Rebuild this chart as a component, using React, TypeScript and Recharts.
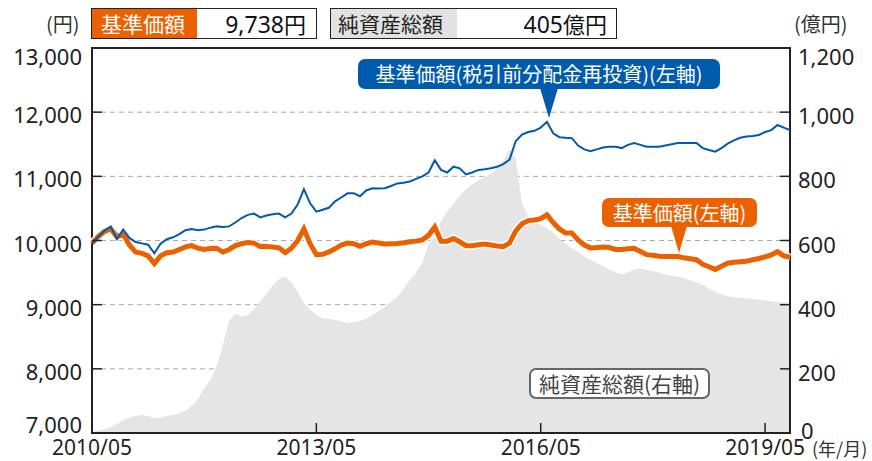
import React from "react";
import { ComposedChart, Area, Line, XAxis, YAxis, CartesianGrid, ReferenceArea } from "recharts";

// monthly, 2010/05 .. 2019/09
const NAV_REINVEST = [
  9950, 10060, 10150, 10220, 10020, 10170, 10040, 9975, 9955, 9935,
  9800, 9950, 10020, 10050, 10100, 10160, 10180, 10160, 10170, 10200,
  10220, 10210, 10220, 10280, 10350, 10400, 10420, 10360, 10390, 10410,
  10420, 10360, 10420, 10560, 10800, 10580, 10450, 10480, 10510, 10610,
  10670, 10735, 10735, 10690, 10780, 10815, 10810, 10815, 10850, 10890,
  10900, 10920, 10960, 11000, 11060, 11250, 11100, 11060, 11150, 11125,
  11030, 11060, 11100, 11110, 11125, 11150, 11190, 11260, 11550, 11650,
  11690, 11710, 11760, 11850, 11670, 11610, 11600, 11595, 11480, 11420,
  11390, 11420, 11450, 11460, 11460, 11440, 11490, 11520, 11490, 11460,
  11460, 11460, 11480, 11500, 11520, 11520, 11520, 11520, 11440, 11410,
  11385, 11440, 11510, 11560, 11600, 11620, 11630, 11645, 11690, 11720,
  11800, 11760, 11720,
];

const NAV = [
  9955, 10060, 10140, 10180, 10060, 10100, 9930, 9820, 9800, 9760,
  9640, 9760, 9810, 9820, 9860, 9900, 9920, 9880, 9860, 9875,
  9880, 9820, 9860, 9920, 9950, 9970, 9960, 9905, 9905, 9900,
  9885, 9810, 9880, 10000, 10180, 9950, 9780, 9785, 9820, 9870,
  9930, 9960, 9950, 9910, 9950, 9975, 9960, 9945, 9950, 9955,
  9965, 9980, 9990, 10010, 10080, 10210, 9990, 9990, 10030, 9980,
  9920, 9920, 9935, 9945, 9930, 9915, 9905, 9960, 10150, 10260,
  10310, 10320, 10340, 10400, 10280, 10180, 10115, 10115, 10010, 9930,
  9885, 9890, 9900, 9890, 9860, 9860, 9870, 9880, 9830, 9780,
  9770, 9755, 9750, 9750, 9750, 9730, 9715, 9700, 9630, 9590,
  9550, 9600, 9645, 9660, 9670, 9675, 9700, 9720, 9745, 9775,
  9825, 9760, 9738,
];

const NET_ASSETS = [
  3, 8, 12, 18, 28, 40, 48, 53, 56, 52,
  46, 48, 53, 56, 62, 70, 85, 105, 140, 165,
  210, 275, 350, 372, 363, 368, 385, 410, 435, 460,
  480, 487, 471, 440, 405, 385, 368, 358, 355, 352,
  348, 342, 345, 350, 356, 368, 380, 393, 410, 425,
  450, 477, 500, 530, 590, 615, 660, 690, 715, 740,
  760, 775, 788, 798, 808, 825, 850, 885, 855, 715,
  675, 660, 650, 638, 625, 605, 590, 577, 565, 550,
  540, 530, 520, 510, 500, 495, 500, 510, 513, 508,
  505, 500, 495, 490, 487, 482, 476, 471, 462, 450,
  440, 432, 426, 423, 421, 420, 418, 415, 413, 411,
  409, 406, 405,
];

const X_TICKS = [0, 36, 72, 108];
const X_TICK_LABELS = ["2010/05", "2013/05", "2016/05", "2019/05"];
const LEFT_TICKS = [7000, 8000, 9000, 10000, 11000, 12000, 13000];
const RIGHT_TICKS = [0, 200, 400, 600, 800, 1000, 1200];

const data = NAV.map((v, i) => ({
  m: i,
  nav: v,
  navR: NAV_REINVEST[i],
  assets: NET_ASSETS[i],
}));

const ORANGE = "#eb6100";
const BLUE = "#005bac";
const NUM_FONT = "'Noto Sans', 'Noto Sans CJK JP', sans-serif";
const JP_FONT = "'Noto Sans CJK JP', 'Noto Sans', sans-serif";

const fmt = (v: number) => v.toLocaleString("en-US");

function LeftTick({ x, y, payload }: any) {
  const v = payload.value;
  const dy = v === 13000 ? 8 : v === 7000 ? -9 : 2;
  return (
    <g>
      {v !== 7000 && v !== 13000 && (
        <line x1={x + 10} x2={x + 20} y1={y} y2={y} stroke="#222" strokeWidth={1.5} />
      )}
      <text x={x} y={y + dy} textAnchor="end" dominantBaseline="central"
        fontFamily={NUM_FONT} fontSize={22} fill="#222">{fmt(v)}</text>
    </g>
  );
}

function RightTick({ x, y, payload }: any) {
  const v = payload.value;
  const dy = v === 1200 ? 8 : v === 0 ? -3 : 3;
  const dx = v === 0 ? 3 : 0;
  return (
    <g>
      {v !== 0 && v !== 1200 && (
        <line x1={x - 18} x2={x - 8} y1={y} y2={y} stroke="#222" strokeWidth={1.5} />
      )}
      <text x={x + dx} y={y + dy} textAnchor="start" dominantBaseline="central"
        fontFamily={NUM_FONT} fontSize={22} fill="#222">{fmt(v)}</text>
    </g>
  );
}

function BottomTick({ x, y, payload }: any) {
  const i = X_TICKS.indexOf(payload.value);
  return (
    <g>
      {payload.value !== 0 && (
        <line x1={x} x2={x} y1={y} y2={y - 10} stroke="#222" strokeWidth={1.5} />
      )}
      <text x={x} y={y + 22} textAnchor="middle"
        fontFamily={NUM_FONT} fontSize={21} fill="#222">{X_TICK_LABELS[i]}</text>
    </g>
  );
}

const abs = (l: number, t: number, w: number, h: number): React.CSSProperties => ({
  position: "absolute", left: l, top: t, width: w, height: h, boxSizing: "border-box",
});

export default function App() {
  return (
    <div style={{ position: "absolute", left: 0, top: 0, width: 872, height: 461, background: "#fff", fontFamily: JP_FONT }}>
      <ComposedChart width={872} height={461} data={data} margin={{ top: 48, right: 0, bottom: 0, left: 0 }}>
        <CartesianGrid yAxisId="left" vertical={false} horizontalValues={LEFT_TICKS}
          stroke="#aaa" strokeDasharray="5 4" />
        <XAxis dataKey="m" type="number" domain={[0, 112]} ticks={X_TICKS} interval={0}
          height={28} axisLine={false} tickLine={false} tickSize={0} tickMargin={0} tick={BottomTick} />
        <YAxis yAxisId="left" width={92} domain={[7000, 13000]} ticks={LEFT_TICKS} interval={0}
          axisLine={false} tickLine={false} tickSize={0} tickMargin={10} tick={LeftTick} />
        <YAxis yAxisId="right" orientation="right" width={82} domain={[0, 1200]} ticks={RIGHT_TICKS} interval={0}
          axisLine={false} tickLine={false} tickSize={0} tickMargin={8} tick={RightTick} />
        <Area yAxisId="right" dataKey="assets" type="linear" fill="#e5e5e5" fillOpacity={1}
          stroke="none" isAnimationActive={false} dot={false} activeDot={false} />
        <Line yAxisId="left" dataKey="nav" type="linear" stroke="#fff" strokeWidth={8}
          dot={false} activeDot={false} isAnimationActive={false} />
        <Line yAxisId="left" dataKey="nav" type="linear" stroke={ORANGE} strokeWidth={5}
          dot={false} activeDot={false} isAnimationActive={false} />
        <Line yAxisId="left" dataKey="navR" type="linear" stroke={BLUE} strokeWidth={2}
          dot={false} activeDot={false} isAnimationActive={false} />
        <ReferenceArea yAxisId="left" x1={0} x2={112} y1={7000} y2={13000}
          fill="none" stroke="#222" strokeWidth={2} ifOverflow="visible" />
      </ComposedChart>

      {/* header */}
      <div style={{ ...abs(46, 10, 44, 28), fontSize: 20, color: "#333", lineHeight: "28px" }}>(円)</div>
      <div style={{ ...abs(794, 10, 60, 28), fontSize: 20, color: "#333", lineHeight: "28px" }}>(億円)</div>

      <div style={{ ...abs(91, 8, 226, 31), border: "1.5px solid #222", display: "flex" }}>
        <div style={{ width: 105, background: ORANGE, color: "#fff", fontSize: 21, lineHeight: "28px", paddingLeft: 9, boxSizing: "border-box" }}>基準価額</div>
        <div style={{ flex: 1, textAlign: "right", paddingRight: 10, fontSize: 23, lineHeight: "28px", color: "#111", fontFamily: NUM_FONT }}>
          9,738<span style={{ fontFamily: JP_FONT, fontSize: 22 }}>円</span>
        </div>
      </div>

      <div style={{ ...abs(330, 8, 287, 31), border: "1.5px solid #222", display: "flex" }}>
        <div style={{ width: 126, background: "#e2e2e2", color: "#222", fontSize: 21, lineHeight: "28px", paddingLeft: 7, boxSizing: "border-box" }}>純資産総額</div>
        <div style={{ flex: 1, textAlign: "right", paddingRight: 9, fontSize: 23, lineHeight: "28px", color: "#111", fontFamily: NUM_FONT }}>
          405<span style={{ fontFamily: JP_FONT, fontSize: 22 }}>億円</span>
        </div>
      </div>

      {/* callouts */}
      <div style={{ ...abs(358, 59, 362, 30), background: BLUE, borderRadius: 7, color: "#fff", fontSize: 20, lineHeight: "30px", textAlign: "center" }}>
        基準価額(税引前分配金再投資)(左軸)
      </div>
      <div style={{ position: "absolute", left: 540, top: 88, width: 0, height: 0, borderLeft: "9px solid transparent", borderRight: "9px solid transparent", borderTop: `30px solid ${BLUE}` }} />

      <div style={{ ...abs(602, 198, 155, 29), background: ORANGE, borderRadius: 7, color: "#fff", fontSize: 20, lineHeight: "29px", textAlign: "center" }}>
        基準価額(左軸)
      </div>
      <div style={{ position: "absolute", left: 671, top: 226, width: 0, height: 0, borderLeft: "8px solid transparent", borderRight: "8px solid transparent", borderTop: `27px solid ${ORANGE}` }} />

      <div style={{ ...abs(529, 368, 181, 31), background: "#fff", border: "2px solid #666", borderRadius: 7, color: "#444", fontSize: 21, lineHeight: "27px", textAlign: "center" }}>
        純資産総額(右軸)
      </div>

      <div style={{ ...abs(812, 436, 60, 24), fontSize: 18, color: "#333", lineHeight: "24px" }}>(年/月)</div>
    </div>
  );
}
